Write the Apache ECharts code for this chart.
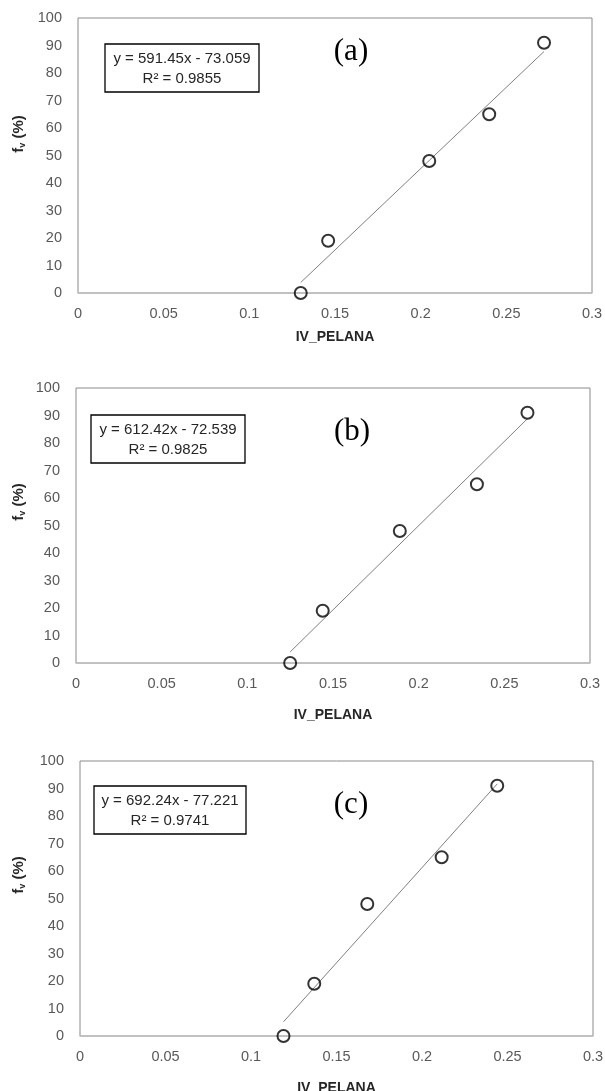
<!DOCTYPE html>
<html>
<head>
<meta charset="utf-8">
<script src="https://cdn.jsdelivr.net/npm/echarts@6/dist/echarts.min.js"></script>
<style>html,body{margin:0;padding:0;background:#fff}#c{width:605px;height:1091px}</style>
</head>
<body>
<div id="c"></div>
<script>
// Data
const yValues = [0, 19, 48, 65, 91];
const xA = [0.13, 0.146, 0.205, 0.24, 0.272];
const xB = [0.125, 0.144, 0.189, 0.234, 0.2635];
const xC = [0.119, 0.137, 0.168, 0.2115, 0.244];
const slopes = [591.45, 612.42, 692.24];
const intercepts = [-73.059, -72.539, -77.221];
const r2Values = ['0.9855', '0.9825', '0.9741'];
const panelLabels = ['(a)', '(b)', '(c)'];
const xTicks = [0, 0.05, 0.1, 0.15, 0.2, 0.25, 0.3];
const yTicks = [0, 10, 20, 30, 40, 50, 60, 70, 80, 90, 100];
const xName = 'IV_PELANA';

const xSets = [xA, xB, xC];

// Layout
const grids = [
  {left: 78, right: 13, top: 18, height: 275},
  {left: 76, right: 15, top: 388, height: 275},
  {left: 80, right: 12, top: 761, height: 275}
];
const nameGaps = [37, 45, 45];
const boxes = [
  {x: 105, y: 44, w: 154, h: 48},
  {x: 91, y: 415, w: 154, h: 48},
  {x: 94, y: 786, w: 152, h: 48}
];
const panelPos = [[351, 52], [352, 432], [351, 805]];
const yLabelPos = [[19, 134], [19, 502], [19, 875]];

const tickFont = {fontFamily: 'Liberation Sans', fontSize: 14.5, color: '#595959'};

const xAxes = [], yAxes = [], series = [], graphics = [];
grids.forEach((g, i) => {
  g.show = true;
  g.borderColor = '#8a8a8a';
  g.borderWidth = 1;
  g.backgroundColor = 'transparent';
  g.containLabel = false;
  g.outerBoundsMode = 'none';
  xAxes.push({
    type: 'value', gridIndex: i, min: 0, max: 0.3, interval: 0.05,
    axisLine: {show: true, onZero: false, lineStyle: {color: '#c0c0c0', width: 1.5}},
    axisTick: {show: false},
    splitLine: {show: false},
    axisLabel: Object.assign({margin: 13, formatter: v => String(+v.toFixed(2))}, tickFont),
    name: xName, nameLocation: 'middle', nameGap: nameGaps[i],
    nameTextStyle: {fontFamily: 'Liberation Sans', fontWeight: 'bold', fontSize: 14, color: '#262626'}
  });
  yAxes.push({
    type: 'value', gridIndex: i, min: 0, max: 100, interval: 10,
    axisLine: {show: false}, axisTick: {show: false}, splitLine: {show: false},
    axisLabel: Object.assign({margin: 16}, tickFont)
  });
  const xs = xSets[i];
  const xmin = Math.min(...xs), xmax = Math.max(...xs);
  series.push({
    type: 'line', xAxisIndex: i, yAxisIndex: i, showSymbol: false, symbol: 'none',
    data: [[xmin, slopes[i] * xmin + intercepts[i]], [xmax, slopes[i] * xmax + intercepts[i]]],
    lineStyle: {color: '#808080', width: 1}, z: 2, silent: true
  });
  series.push({
    type: 'scatter', xAxisIndex: i, yAxisIndex: i, symbol: 'circle', symbolSize: 12,
    data: xs.map((x, k) => [x, yValues[k]]),
    itemStyle: {color: 'rgba(0,0,0,0)', borderColor: '#000', borderWidth: 2}, z: 3
  });
  const b = boxes[i];
  const sign = intercepts[i] < 0 ? '- ' : '+ ';
  graphics.push({
    type: 'rect', shape: {x: b.x, y: b.y, width: b.w, height: b.h},
    style: {fill: '#fff', stroke: '#000', lineWidth: 1.3}, z: 10
  });
  graphics.push({
    type: 'text', x: b.x + b.w / 2, y: b.y + 15, z: 11,
    style: {text: 'y = ' + slopes[i] + 'x ' + sign + Math.abs(intercepts[i]), fontFamily: 'Liberation Sans', fontSize: 15,
      fill: '#262626', align: 'center', verticalAlign: 'middle'}
  });
  graphics.push({
    type: 'text', x: b.x + b.w / 2, y: b.y + 35, z: 11,
    style: {text: 'R² = ' + r2Values[i], fontFamily: 'Liberation Sans', fontSize: 15,
      fill: '#262626', align: 'center', verticalAlign: 'middle'}
  });
  graphics.push({
    type: 'text', x: panelPos[i][0], y: panelPos[i][1], z: 11,
    style: {text: panelLabels[i], fontFamily: 'Liberation Serif', fontSize: 31,
      fill: '#000', align: 'center', verticalAlign: 'middle'}
  });
  graphics.push({
    type: 'text', x: yLabelPos[i][0], y: yLabelPos[i][1], rotation: Math.PI / 2, z: 11,
    style: {text: '{b|f}{s|v}{b| (%)}', align: 'center', verticalAlign: 'middle',
      rich: {
        b: {fontFamily: 'Liberation Sans', fontWeight: 'bold', fontSize: 15, fill: '#262626', lineHeight: 18, verticalAlign: 'middle'},
        s: {fontFamily: 'Liberation Sans', fontWeight: 'bold', fontSize: 9, fill: '#262626', lineHeight: 18, padding: [8, 0, 0, 0]}
      }}
  });
});

const chart = echarts.init(document.getElementById('c'), null, {renderer: 'canvas'});
chart.setOption({
  animation: false,
  backgroundColor: '#fff',
  grid: grids,
  xAxis: xAxes,
  yAxis: yAxes,
  series: series,
  graphic: graphics
});
</script>
</body>
</html>
